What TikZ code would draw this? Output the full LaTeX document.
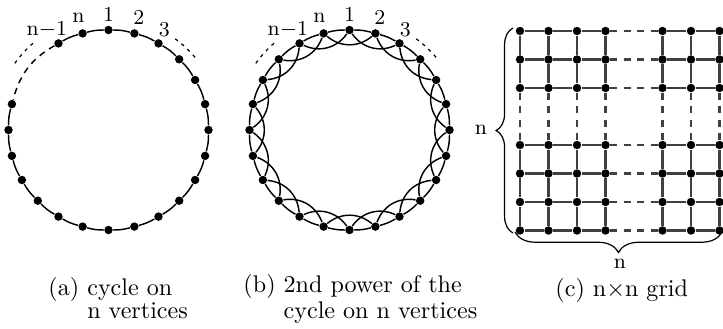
\documentclass[tikz,border=0pt]{standalone}
\usepackage{amsmath}
\usetikzlibrary{calc,decorations.pathreplacing}

\begin{document}
\begin{tikzpicture}[x=0.415pt, y=0.415pt,
    vtx/.style={circle, fill, inner sep=0pt, minimum size=3.5pt},
    cedge/.style={line width=0.6pt},
    gedge/.style={line width=0.9pt, black!75},
    gdash/.style={gedge, dash pattern=on 3pt off 2.6pt},
    lbl/.style={font=\fontsize{8.8}{10}\selectfont, inner sep=0pt},
    dotsarc/.style={line width=0.5pt, dash pattern=on 1.4pt off 1.9pt},
    gaparc/.style={line width=0.6pt, dash pattern=on 2.6pt off 2.2pt},
    capt/.style={align=left, anchor=base west, inner sep=0pt, font=\fontsize{10}{9.2}\selectfont}]

  \useasboundingbox (0,0) rectangle (723,328);
  \coordinate (ca) at (108.5,198);
  \coordinate (cb) at (349.5,198);

  % (a) cycle on n vertices
  \foreach \k in {0,...,8,11,12,...,23}
    \node[vtx] (a\k) at ([shift={(15*\k:100)}]ca) {};
  \foreach \m in {11,...,31} {
    \pgfmathtruncatemacro\k{mod(\m,24)}
    \pgfmathtruncatemacro\nxt{mod(\m+1,24)}
    \draw[cedge] (a\k) to[bend right=7.5] (a\nxt);
  }
  \draw[gaparc] (a8) to[bend right=22.5] (a11);

  % (b) square of the cycle
  \foreach \k in {0,...,23}
    \node[vtx] (b\k) at ([shift={(15*\k:100)}]cb) {};
  \foreach \k in {0,...,23} {
    \pgfmathtruncatemacro\nxt{mod(\k+1,24)}
    \pgfmathtruncatemacro\skp{mod(\k+2,24)}
    \draw[cedge] (b\k) to[bend right=7.5] (b\nxt);
    \draw[cedge] (b\k) to[bend left=40] (b\skp);
  }

  % vertex labels and dots, same for both cycles
  \foreach \c in {a,b} {
    \node[lbl] (\c-one) at ([shift={(90:116)}]c\c) {1};
    \node[lbl] (\c-two) at ([shift={(75:117)}]c\c) {2};
    \node[lbl] (\c-three) at ([shift={(61:115)}]c\c) {3};
    \node[lbl] (\c-n) at ([shift={(105:116)}]c\c) {n};
    \node[lbl] (\c-nm) at ([shift={(121.5:118)}]c\c) {n$-$1};
    \draw[dotsarc] ([shift={(131:115)}]c\c) arc[start angle=131, end angle=145, radius=115];
    \draw[dotsarc] ([shift={(40:113)}]c\c) arc[start angle=40, end angle=54, radius=113];
  }

  % (c) grid
  \foreach \i in {0,1,2,3,5,6,7}
    \foreach \j in {0,1,2,4,5,6,7}
      \node[vtx] (g\i\j) at (520+28.5*\i, 297-28.5*\j) {};
  \foreach \j in {0,1,2,4,5,6,7} {
    \foreach \i/\n in {0/1,1/2,2/3,5/6,6/7}
      \draw[gedge] (g\i\j) -- (g\n\j);
    \draw[gdash] (g3\j) -- (g5\j);
  }
  \foreach \i in {0,1,2,3,5,6,7} {
    \foreach \j/\n in {0/1,1/2,4/5,5/6,6/7}
      \draw[gedge] (g\i\j) -- (g\i\n);
    \draw[gdash] (g\i2) -- (g\i4);
  }

  % braces
  \coordinate (lb-bot) at (513,95);
  \coordinate (lb-top) at (513,300);
  \coordinate (bb-right) at (722,96);
  \coordinate (bb-left) at (515,96);
  \draw[decorate, decoration={brace, amplitude=7pt}, line width=0.5pt] (lb-bot) -- (lb-top);
  \draw[decorate, decoration={brace, amplitude=8.5pt}, line width=0.5pt] (bb-right) -- (bb-left);
  \node[lbl] (nleft) at (481,198) {n};
  \node[lbl] (nbot) at (620,64) {n};

  % captions
  \node[capt] (capa) at (48,10) {(a) cycle on\\\hphantom{(a) }n vertices};
  \node[capt] (capb) at (243,10) {(b) 2nd power of the\\\hphantom{(b) }cycle on n vertices};
  \node[capt] (capc) at (555,32) {(c) n$\times$n grid};
\end{tikzpicture}
\end{document}
